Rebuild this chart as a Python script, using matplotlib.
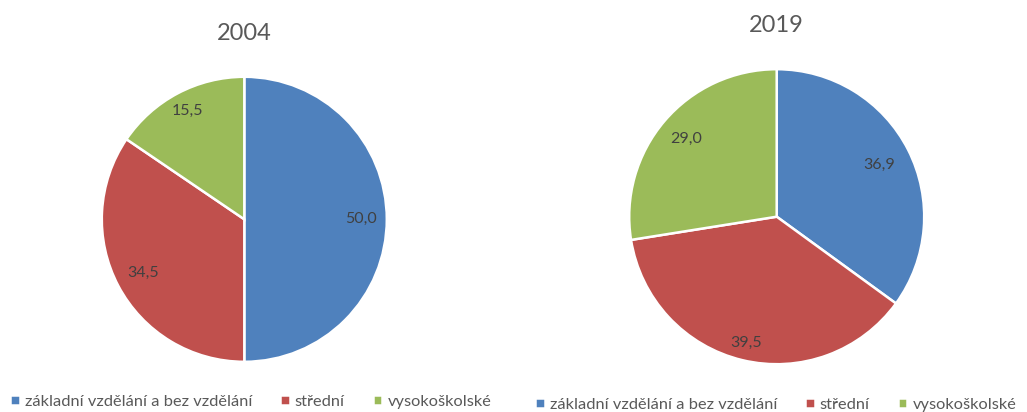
import numpy as np
import matplotlib
matplotlib.use("Agg")
import matplotlib.pyplot as plt

plt.rcParams['font.family'] = ['Lato', 'DejaVu Sans']

# data
categories = ["základní vzdělání a bez vzdělání", "střední", "vysokoškolské"]
years = ["2004", "2019"]
values_2004 = [50.0, 34.5, 15.5]
values_2019 = [36.9, 39.5, 29.0]

colors = ["#4F81BD", "#C0504D", "#9BBB59"]
text_color = "#595959"
W, H = 1027, 412

fig = plt.figure(figsize=(W / 100, H / 100), dpi=100)

# pie placement in pixels: centre x, centre y (from top), radius
layout = [
    dict(cx=244.3, cy=219.3, r=142.5, title_y=33, label_r=[0.82, 0.80, 0.86], leg_x=10, leg_y=402),
    dict(cx=776.7, cy=216.7, r=147.5, title_y=25, label_r=[0.78, 0.88, 0.81], leg_x=535, leg_y=405),
]

for year, vals, lay in zip(years, [values_2004, values_2019], layout):
    r = lay["r"]
    ax = fig.add_axes([(lay["cx"] - r) / W, (H - lay["cy"] - r) / H, 2 * r / W, 2 * r / H])
    wedges, _ = ax.pie(vals, colors=colors, startangle=90, counterclock=False,
                       wedgeprops=dict(edgecolor="white", linewidth=1.8))
    ax.set_xlim(-1, 1)
    ax.set_ylim(-1, 1)

    # value labels inside wedges
    for w, v, d in zip(wedges, vals, lay["label_r"]):
        ang = np.deg2rad((w.theta1 + w.theta2) / 2)
        ax.text(d * np.cos(ang), d * np.sin(ang), f"{v:.1f}".replace(".", ","),
                ha="center", va="center", fontsize=11.5, color="#404040")

    fig.text(lay["cx"] / W, 1 - lay["title_y"] / H, year, ha="center", va="center",
             fontsize=17, color=text_color)

    fig.legend(wedges, categories, loc="center left",
               bbox_to_anchor=(lay["leg_x"] / W, 1 - lay["leg_y"] / H),
               ncol=3, frameon=False, fontsize=11.8, labelcolor=text_color,
               handlelength=0.6, handleheight=0.6, handletextpad=0.3,
               columnspacing=1.7, borderpad=0, borderaxespad=0)

fig.savefig("out.png", dpi=100, facecolor="white")
